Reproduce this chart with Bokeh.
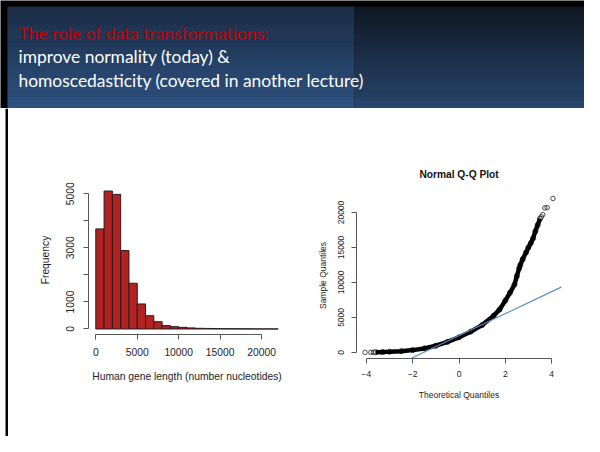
from bokeh.plotting import figure
from bokeh.layouts import column, row
from bokeh.models import Range1d, FixedTicker, Slope
from bokeh.core.properties import value
from bokeh.embed import file_html
from bokeh.resources import INLINE

# ---------------- data ----------------
header_title = "The role of data transformations:"
header_line2 = "improve normality (today) &"
header_line3 = "homoscedasticity (covered in another lecture)"

bin_edges = [0, 1000, 2000, 3000, 4000, 5000, 6000, 7000, 8000, 9000, 10000,
             11000, 12000, 13000, 14000, 15000, 16000, 17000, 18000, 19000,
             20000, 21000, 22000]
counts = [3700, 5100, 4975, 2900, 1690, 925, 490, 270, 125, 85, 60,
          40, 25, 20, 15, 10, 8, 5, 5, 3, 2, 2]
hist_xticks = [0, 5000, 10000, 15000, 20000]
hist_yticks = [0, 1000, 2000, 3000, 4000, 5000]
hist_yhidden = [2000, 4000]
hist_xlabel = "Human gene length (number nucleotides)"
hist_ylabel = "Frequency"

# dense part of the Q-Q curve (theoretical quantile, sample quantile)
qq_theo = [-3.6, -3.3, -3.0, -2.5, -2.0, -1.5, -1.0, -0.5, 0.0, 0.5, 1.0,
           1.5, 1.75, 2.0, 2.2, 2.4, 2.5, 2.6, 2.65, 2.75, 2.9, 3.0, 3.1,
           3.2, 3.3, 3.4, 3.5]
qq_sample = [20, 50, 90, 170, 320, 560, 950, 1500, 2150, 2950, 3900,
             5250, 6100, 7400, 8500, 9700, 10900, 12000, 12500, 13300, 14300,
             15000, 15600, 16300, 17300, 18200, 19100]
# isolated extreme points
qq_sparse_theo = [-4.06, -3.81, -3.70, 3.56, 3.62, 3.71, 3.81, 4.06]
qq_sparse_sample = [0, 0, 10, 19400, 19700, 20650, 20700, 22000]
qq_xticks = [-4, -2, 0, 2, 4]
qq_yticks = [0, 5000, 10000, 15000, 20000]
qqline_slope = 1570
qqline_intercept = 2390
qq_title = "Normal Q-Q Plot"
qq_xlabel = "Theoretical Quantiles"
qq_ylabel = "Sample Quantiles"

FONT = "Liberation Sans"

# ---------------- header ----------------
hdr = figure(width=584, height=108, x_range=Range1d(0, 584), y_range=Range1d(108, 0),
             min_border=0, toolbar_location=None, output_backend="svg",
             outline_line_color=None, background_fill_color="black",
             border_fill_color="black")
hdr.axis.visible = False
hdr.grid.visible = False


def hexmix(c1, c2, t):
    a = [int(c1[i:i + 2], 16) for i in (1, 3, 5)]
    b = [int(c2[i:i + 2], 16) for i in (1, 3, 5)]
    return "#%02x%02x%02x" % tuple(round(a[k] + (b[k] - a[k]) * t) for k in range(3))


N = 50
for (x0, x1, ctop, cbot) in [(7, 354, "#1b2c44", "#2d5282"), (354, 584, "#0f1722", "#28466e")]:
    tops, bots, cols = [], [], []
    for i in range(N):
        y0 = 6 + 102 * i / N
        y1 = 6 + 102 * (i + 1) / N
        tops.append(y0)
        bots.append(min(y1 + 0.6, 108))
        cols.append(hexmix(ctop, cbot, (i + 0.5) / N))
    hdr.quad(left=x0, right=x1, top=tops, bottom=bots, fill_color=cols, line_color=None)

hdr.text(x=[18], y=[33], text=[header_title], text_color="#c00000",
         text_font=value("Lato"), text_font_size="17.4px", text_baseline="alphabetic")
hdr.text(x=[18, 18], y=[56, 80], text=[header_line2, header_line3], text_color="white",
         text_font=value("Lato"), text_font_size="17.4px", text_baseline="alphabetic")

# ---------------- left black rule ----------------
rule = figure(width=8, height=328, min_border=0, toolbar_location=None, output_backend="svg",
              outline_line_color=None, background_fill_color="white", border_fill_color="white",
              x_range=Range1d(0, 8), y_range=Range1d(0, 1))
rule.axis.visible = False
rule.grid.visible = False
rule.quad(left=[5], right=[8], bottom=[0], top=[1], fill_color="black", line_color=None)


def style_axes(p, size):
    for ax in (p.xaxis[0], p.yaxis[0]):
        ax.axis_line_color = "#555555"
        ax.major_tick_line_color = "#555555"
        ax.major_tick_in = 0
        ax.major_tick_out = 5
        ax.minor_tick_line_color = None
        ax.major_label_text_font = FONT
        ax.major_label_text_font_size = size
        ax.major_label_text_color = "#222222"
        ax.axis_label_text_font = FONT
        ax.axis_label_text_font_size = size
        ax.axis_label_text_font_style = "normal"
        ax.axis_label_text_color = "#222222"
    p.yaxis[0].major_label_orientation = "vertical"
    p.grid.visible = False


# ---------------- histogram ----------------
hist = figure(width=292, height=328, x_range=Range1d(-880, 22880), y_range=Range1d(-204, 5304),
              min_border_left=80, min_border_right=15, min_border_top=77, min_border_bottom=102,
              toolbar_location=None, output_backend="svg", outline_line_color=None)
hist.quad(left=bin_edges[:-1], right=bin_edges[1:], top=counts, bottom=0,
          fill_color="#B22222", line_color="#2b1b1b", line_width=1)
style_axes(hist, "10.3px")
hist.xaxis[0].ticker = FixedTicker(ticks=hist_xticks)
hist.xaxis[0].bounds = (hist_xticks[0], hist_xticks[-1])
hist.yaxis[0].ticker = FixedTicker(ticks=hist_yticks)
hist.yaxis[0].bounds = (hist_yticks[0], hist_yticks[-1])
hist.yaxis[0].major_label_overrides = {t: "" for t in hist_yhidden}
hist.xaxis[0].axis_label = hist_xlabel
hist.yaxis[0].axis_label = hist_ylabel
hist.xaxis[0].major_label_standoff = 8
hist.xaxis[0].axis_label_standoff = 12
hist.yaxis[0].major_label_standoff = 9
hist.yaxis[0].axis_label_standoff = 13

# ---------------- Q-Q plot ----------------
qq = figure(width=284, height=328, x_range=Range1d(-4.43, 4.43), y_range=Range1d(-880, 22860),
            min_border_left=56, min_border_right=23, min_border_top=84, min_border_bottom=78,
            toolbar_location=None, output_backend="svg", outline_line_color=None,
            title=qq_title)
qq.title.align = "center"
qq.title.text_font = FONT
qq.title.text_font_size = "10.2px"
qq.title.text_font_style = "bold"
qq.title.text_color = "#111111"
qq.title.standoff = 26
qq.line(qq_theo, qq_sample, line_width=4.5, line_color="black")
qq.scatter(qq_theo, qq_sample, marker="circle", size=5, fill_color=None,
           line_color="black", line_width=0.8)
qq.scatter(qq_sparse_theo, qq_sparse_sample, marker="circle", size=4.5, fill_color=None,
           line_color="#222222", line_width=0.8)
qq.add_layout(Slope(gradient=qqline_slope, y_intercept=qqline_intercept,
                    line_color="#5a8ec4", line_width=1.2))
style_axes(qq, "8.5px")
qq.xaxis[0].ticker = FixedTicker(ticks=qq_xticks)
qq.xaxis[0].bounds = (qq_xticks[0], qq_xticks[-1])
qq.yaxis[0].ticker = FixedTicker(ticks=qq_yticks)
qq.yaxis[0].bounds = (qq_yticks[0], qq_yticks[-1])
qq.xaxis[0].axis_label = qq_xlabel
qq.yaxis[0].axis_label = qq_ylabel
qq.xaxis[0].major_label_standoff = 7
qq.xaxis[0].axis_label_standoff = 10
qq.yaxis[0].major_label_standoff = 7
qq.yaxis[0].axis_label_standoff = 8

layout = column(hdr, row(rule, column(hist), column(qq)))
open("out.html", "w").write(file_html(layout, INLINE))
